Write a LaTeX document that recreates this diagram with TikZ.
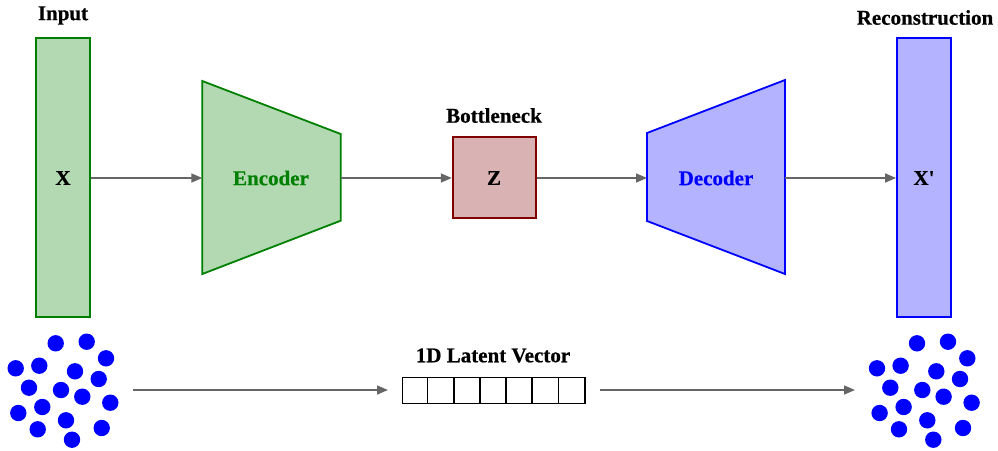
\documentclass[tikz,border=0pt]{standalone}
\usepackage{fontspec}
\setmainfont{Liberation Serif}[BoldFeatures={FakeBold=0.6}]
\usetikzlibrary{arrows.meta,calc}
\definecolor{gfill}{RGB}{179,217,179}
\definecolor{gline}{RGB}{0,128,0}
\definecolor{rfill}{RGB}{217,179,179}
\definecolor{rline}{RGB}{128,0,0}
\definecolor{bfill}{RGB}{179,179,255}
\definecolor{bline}{RGB}{0,0,255}
\definecolor{arr}{RGB}{102,102,102}
\tikzset{
  lbl/.style={font=\fontsize{21}{24}\selectfont\bfseries, inner sep=0pt},
  conn/.style={draw=arr, line width=1.5pt, -{Triangle[length=11pt,width=9pt]}},
  dot/.style={fill=bline},
  vecline/.style={draw=black, line width=1.4pt}
}
\begin{document}
\begin{tikzpicture}[x=1pt,y=-1pt]
\useasboundingbox (0,0) rectangle (998,450);
% input
\node[draw=gline, fill=gfill, line width=1.8pt, minimum width=54pt, minimum height=279pt, inner sep=0pt] (in) at (63,177.5) {};
\node[lbl] (intext) at (63,178) {X};
\node[lbl] (inlbl) at (63,15.5) {Input};
% encoder
\draw[draw=gline, fill=gfill, line width=1.8pt] (202.3,81) -- (340.7,134) -- (340.7,220.7) -- (202.3,274) -- cycle;
\coordinate (encL) at (202.3,178);
\coordinate (encR) at (340.7,178);
\node[lbl, text=gline] (enc) at (271,178) {Encoder};
% bottleneck
\node[draw=rline, fill=rfill, line width=1.8pt, minimum width=83pt, minimum height=81.5pt, inner sep=0pt] (z) at (494.2,177.5) {};
\node[lbl] (ztext) at (494,178) {Z};
\node[lbl] (zlbl) at (494,115.5) {Bottleneck};
% decoder
\draw[draw=bline, fill=bfill, line width=1.8pt] (647,133) -- (785,80) -- (785,274) -- (647,221) -- cycle;
\coordinate (decL) at (647,178);
\coordinate (decR) at (785,178);
\node[lbl, text=bline] (dec) at (716,178) {Decoder};
% reconstruction
\node[draw=bline, fill=bfill, line width=1.8pt, minimum width=54pt, minimum height=279pt, inner sep=0pt] (out) at (924,177.5) {};
\node[lbl] (outtext) at (924,178) {X\textquotesingle};
\node[lbl] (outlbl) at (925,17.5) {Reconstruction};
% connectors
\draw[conn] (in.east |- encL) -- (encL);
\draw[conn] (encR) -- (z.west |- encR);
\draw[conn] (z.east |- decL) -- (decL);
\draw[conn] (decR) -- (out.west |- decR);
% latent vector
\node[vecline, minimum width=182.7pt, minimum height=25.5pt, inner sep=0pt] (vec) at (493.65,390.5) {};
\foreach \i in {1,...,6} {
  \draw[vecline] ($(vec.north west)+({26.1*\i},0)$) -- ($(vec.south west)+({26.1*\i},0)$);
}
\node[lbl] (lvlbl) at (493,355.5) {1D Latent Vector};
\coordinate (a1s) at (133,390);
\coordinate (a1e) at (388,390);
\coordinate (a2s) at (600,390);
\coordinate (a2e) at (855,390);
\draw[conn] (a1s) -- (a1e);
\draw[conn] (a2s) -- (a2e);
% dots
\foreach \x/\y in {55.7/343.3, 86.7/341.7, 106/358.3, 15.7/368.3, 39.3/365.7, 75/371.3, 98.7/379, 29/387.7, 61/390, 82.3/396.7, 110.3/402.7, 18.3/413, 42.3/407, 66/420.3, 37.7/429.3, 101.7/428, 72/439.7} {
  \fill[dot] (\x,\y) circle (8.2);
  \fill[dot] (\x+861.3,\y) circle (8.2);
}
\end{tikzpicture}
\end{document}
